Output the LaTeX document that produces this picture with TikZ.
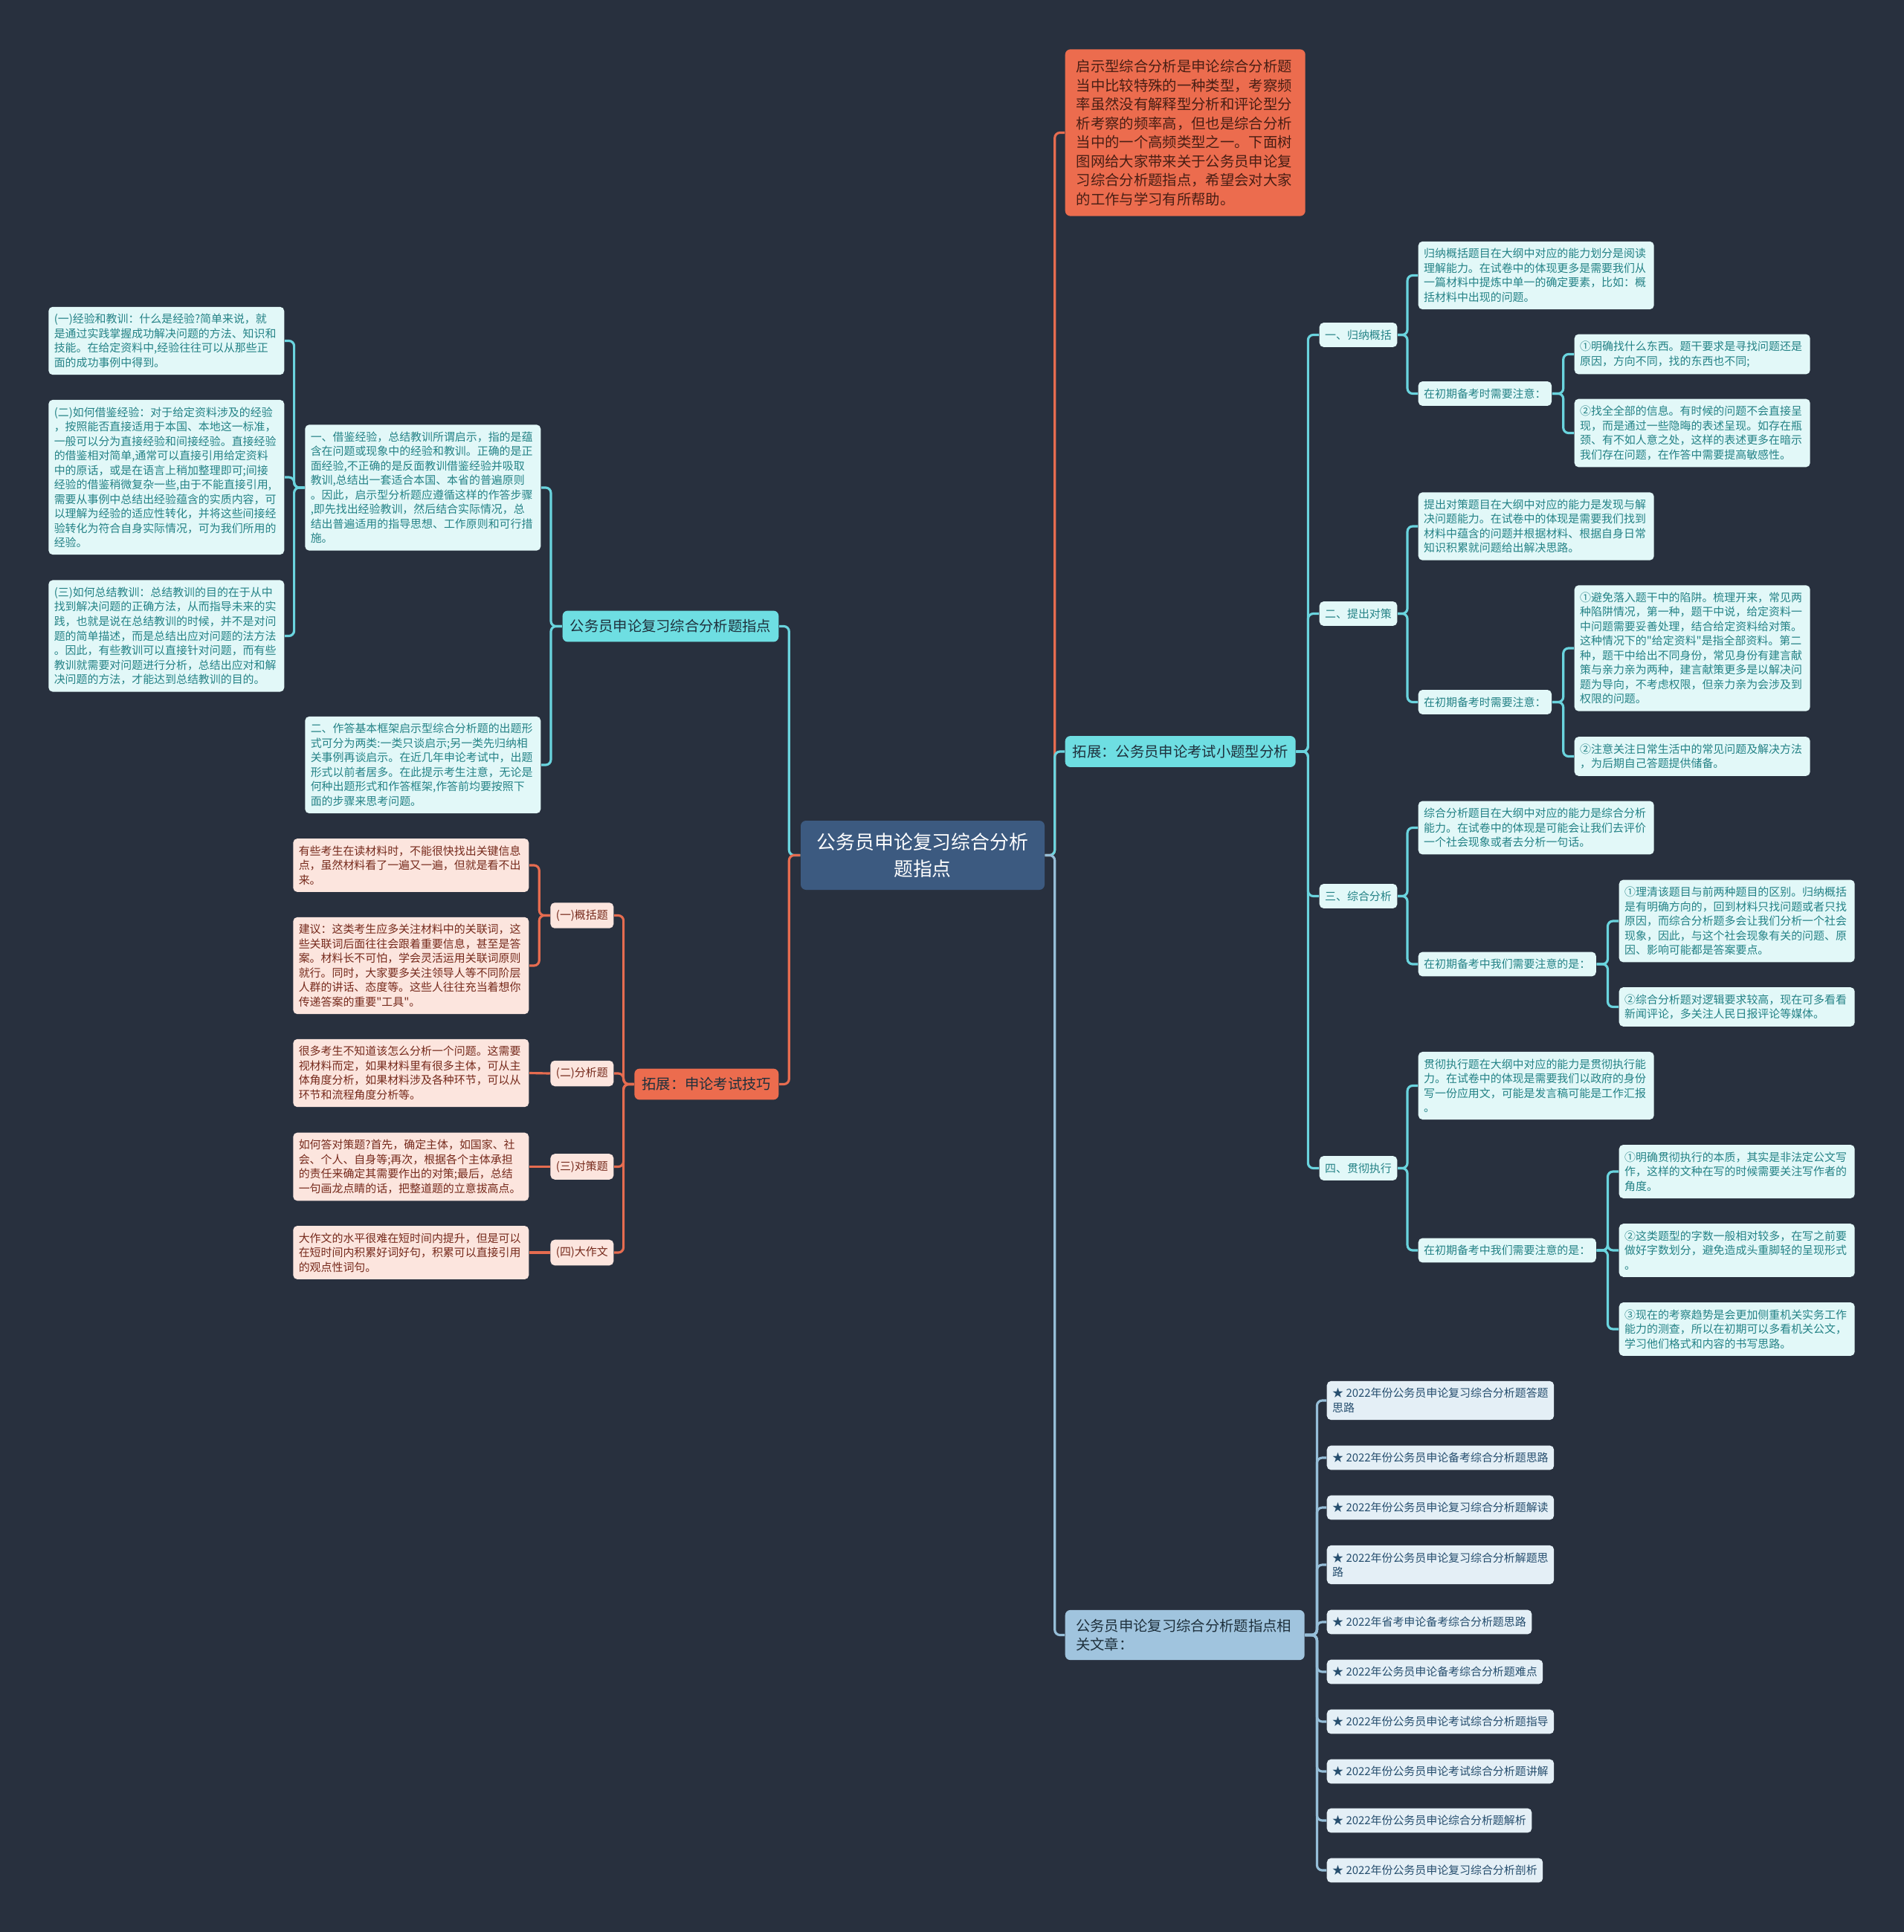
\documentclass[tikz,border=0pt]{standalone}
\usepackage{fontspec}
\newfontfamily\cjk{Noto Sans CJK SC}
\definecolor{bgnavy}{RGB}{40,48,62}
\definecolor{rootblue}{RGB}{60,90,128}
\definecolor{tcyan}{RGB}{110,222,226}
\definecolor{lcyan}{RGB}{226,248,248}
\definecolor{kcyan}{RGB}{36,130,134}
\definecolor{ncyan}{RGB}{106,212,222}
\definecolor{torange}{RGB}{236,108,78}
\definecolor{lorange}{RGB}{252,229,222}
\definecolor{korange}{RGB}{118,42,28}
\definecolor{norange}{RGB}{230,108,80}
\definecolor{tblue}{RGB}{160,196,222}
\definecolor{lblue}{RGB}{228,239,246}
\definecolor{kblue}{RGB}{38,78,110}
\definecolor{nblue}{RGB}{150,190,216}
\definecolor{kdark}{RGB}{30,48,60}
\definecolor{ktop}{RGB}{72,30,20}
\usetikzlibrary{positioning, calc}

\begin{document}
\begin{tikzpicture}[
  card/.style={rounded corners=1.6pt, inner xsep=0.075cm, inner ysep=0.095cm, align=left, font=\cjk\fontsize{4.25}{5.55}\selectfont},
  cnote/.style={card, fill=lcyan, text=kcyan, text width=3.02cm},
  clab/.style={card, fill=lcyan, text=kcyan},
  onote/.style={card, fill=lorange, text=korange, text width=3.02cm},
  olab/.style={card, fill=lorange, text=korange},
  bnote/.style={card, fill=lblue, text=kblue},
  topic/.style={rounded corners=2pt, inner xsep=0.1cm, inner ysep=0.12cm, align=left, text=kdark, font=\cjk\fontsize{5.5}{7.25}\selectfont},
  cline/.style={draw=ncyan, line width=0.9pt, rounded corners=2pt},
  oline/.style={draw=norange, line width=0.9pt, rounded corners=2pt},
  bline/.style={draw=nblue, line width=0.9pt, rounded corners=2pt},
]
  \useasboundingbox (0,0) rectangle (25.6,-25.99);
  \fill[bgnavy] (-0.2,0.2) rectangle (25.8,-26.2);

  % centre
  \node[rounded corners=2pt, fill=rootblue, text=white, align=center, minimum width=3.28cm, minimum height=0.93cm, font=\cjk\fontsize{7.35}{10.2}\selectfont] (root) at (12.41,-11.505) {公务员申论复习综合分析\\题指点};

  % right side
  \node[topic, fill=torange, text=ktop, text width=2.93cm, inner xsep=0.15cm, inner ysep=0.14cm, anchor=west] (intro) at (14.32,-1.785) {启示型综合分析是申论综合分析题\\当中比较特殊的一种类型，考察频\\率虽然没有解释型分析和评论型分\\析考察的频率高，但也是综合分析\\当中的一个高频类型之一。下面树\\图网给大家带来关于公务员申论复\\习综合分析题指点，希望会对大家\\的工作与学习有所帮助。};
  \node[topic, fill=tcyan, anchor=west] (sub) at (14.32,-10.11) {拓展：公务员申论考试小题型分析};
  \node[topic, fill=tblue, text width=2.93cm, inner xsep=0.145cm, anchor=west] (rel) at (14.32,-21.995) {公务员申论复习综合分析题指点相\\关文章：};

  \node[clab, anchor=west] (g1) at (17.74,-4.505) {一、归纳概括};
  \node[clab, anchor=west] (g2) at (17.74,-8.255) {二、提出对策};
  \node[clab, anchor=west] (g3) at (17.74,-12.055) {三、综合分析};
  \node[clab, anchor=west] (g4) at (17.74,-15.715) {四、贯彻执行};

  \node[cnote, anchor=west] (g1a) at (19.07,-3.705) {归纳概括题目在大纲中对应的能力划分是阅读\\理解能力。在试卷中的体现更多是需要我们从\\一篇材料中提炼中单一的确定要素，比如：概\\括材料中出现的问题。};
  \node[clab, anchor=west] (g1b) at (19.07,-5.295) {在初期备考时需要注意：};
  \node[cnote, anchor=west] (g1b1) at (21.17,-4.765) {①明确找什么东西。题干要求是寻找问题还是\\原因，方向不同，找的东西也不同;};
  \node[cnote, anchor=west] (g1b2) at (21.17,-5.825) {②找全全部的信息。有时候的问题不会直接呈\\现，而是通过一些隐晦的表述呈现。如存在瓶\\颈、有不如人意之处，这样的表述更多在暗示\\我们存在问题，在作答中需要提高敏感性。};

  \node[cnote, anchor=west] (g2a) at (19.07,-7.08) {提出对策题目在大纲中对应的能力是发现与解\\决问题能力。在试卷中的体现是需要我们找到\\材料中蕴含的问题并根据材料、根据自身日常\\知识积累就问题给出解决思路。};
  \node[clab, anchor=west] (g2b) at (19.07,-9.445) {在初期备考时需要注意：};
  \node[cnote, anchor=west] (g2b1) at (21.17,-8.72) {①避免落入题干中的陷阱。梳理开来，常见两\\种陷阱情况，第一种，题干中说，给定资料一\\中问题需要妥善处理，结合给定资料给对策。\\这种情况下的"给定资料"是指全部资料。第二\\种，题干中给出不同身份，常见身份有建言献\\策与亲力亲为两种，建言献策更多是以解决问\\题为导向，不考虑权限，但亲力亲为会涉及到\\权限的问题。};
  \node[cnote, anchor=west] (g2b2) at (21.17,-10.175) {②注意关注日常生活中的常见问题及解决方法\\，为后期自己答题提供储备。};

  \node[cnote, anchor=west] (g3a) at (19.07,-11.135) {综合分析题目在大纲中对应的能力是综合分析\\能力。在试卷中的体现是可能会让我们去评价\\一个社会现象或者去分析一句话。};
  \node[clab, anchor=west] (g3b) at (19.07,-12.97) {在初期备考中我们需要注意的是：};
  \node[cnote, anchor=west] (g3b1) at (21.77,-12.39) {①理清该题目与前两种题目的区别。归纳概括\\是有明确方向的，回到材料只找问题或者只找\\原因，而综合分析题多会让我们分析一个社会\\现象，因此，与这个社会现象有关的问题、原\\因、影响可能都是答案要点。};
  \node[cnote, anchor=west] (g3b2) at (21.77,-13.545) {②综合分析题对逻辑要求较高，现在可多看看\\新闻评论，多关注人民日报评论等媒体。};

  \node[cnote, anchor=west] (g4a) at (19.07,-14.605) {贯彻执行题在大纲中对应的能力是贯彻执行能\\力。在试卷中的体现是需要我们以政府的身份\\写一份应用文，可能是发言稿可能是工作汇报\\。};
  \node[clab, anchor=west] (g4b) at (19.07,-16.82) {在初期备考中我们需要注意的是：};
  \node[cnote, anchor=west] (g4b1) at (21.77,-15.76) {①明确贯彻执行的本质，其实是非法定公文写\\作，这样的文种在写的时候需要关注写作者的\\角度。};
  \node[cnote, anchor=west] (g4b2) at (21.77,-16.82) {②这类题型的字数一般相对较多，在写之前要\\做好字数划分，避免造成头重脚轻的呈现形式\\。};
  \node[cnote, anchor=west] (g4b3) at (21.77,-17.88) {③现在的考察趋势是会更加侧重机关实务工作\\能力的测查，所以在初期可以多看机关公文，\\学习他们格式和内容的书写思路。};

  % related articles
  \node[bnote, anchor=west] (a1) at (17.84,-18.84) {★ 2022年份公务员申论复习综合分析题答题\\思路};
  \node[bnote, anchor=west] (a2) at (17.84,-19.61) {★ 2022年份公务员申论备考综合分析题思路};
  \node[bnote, anchor=west] (a3) at (17.84,-20.28) {★ 2022年份公务员申论复习综合分析题解读};
  \node[bnote, anchor=west] (a4) at (17.84,-21.05) {★ 2022年份公务员申论复习综合分析解题思\\路};
  \node[bnote, anchor=west] (a5) at (17.84,-21.82) {★ 2022年省考申论备考综合分析题思路};
  \node[bnote, anchor=west] (a6) at (17.84,-22.49) {★ 2022年公务员申论备考综合分析题难点};
  \node[bnote, anchor=west] (a7) at (17.84,-23.16) {★ 2022年份公务员申论考试综合分析题指导};
  \node[bnote, anchor=west] (a8) at (17.84,-23.83) {★ 2022年份公务员申论考试综合分析题讲解};
  \node[bnote, anchor=west] (a9) at (17.84,-24.49) {★ 2022年份公务员申论综合分析题解析};
  \node[bnote, anchor=west] (a10) at (17.84,-25.16) {★ 2022年份公务员申论复习综合分析剖析};

  % left side
  \node[topic, fill=tcyan, anchor=east] (guide) at (10.48,-8.425) {公务员申论复习综合分析题指点};
  \node[topic, fill=torange, anchor=east] (skill) at (10.48,-14.585) {拓展：申论考试技巧};

  \node[cnote, anchor=east] (jj) at (7.28,-6.56) {一、借鉴经验，总结教训所谓启示，指的是蕴\\含在问题或现象中的经验和教训。正确的是正\\面经验,不正确的是反面教训借鉴经验并吸取\\教训,总结出一套适合本国、本省的普遍原则\\。因此，启示型分析题应遵循这样的作答步骤\\,即先找出经验教训，然后结合实际情况，总\\结出普遍适用的指导思想、工作原则和可行措\\施。};
  \node[cnote, anchor=east] (zd) at (7.28,-10.29) {二、作答基本框架启示型综合分析题的出题形\\式可分为两类:一类只谈启示;另一类先归纳相\\关事例再谈启示。在近几年申论考试中，出题\\形式以前者居多。在此提示考生注意，无论是\\何种出题形式和作答框架,作答前均要按照下\\面的步骤来思考问题。};
  \node[cnote, anchor=east] (jj1) at (3.83,-4.585) {(一)经验和教训：什么是经验?简单来说，就\\是通过实践掌握成功解决问题的方法、知识和\\技能。在给定资料中,经验往往可以从那些正\\面的成功事例中得到。};
  \node[cnote, anchor=east] (jj2) at (3.83,-6.42) {(二)如何借鉴经验：对于给定资料涉及的经验\\，按照能否直接适用于本国、本地这一标准，\\一般可以分为直接经验和间接经验。直接经验\\的借鉴相对简单,通常可以直接引用给定资料\\中的原话，或是在语言上稍加整理即可;间接\\经验的借鉴稍微复杂一些,由于不能直接引用,\\需要从事例中总结出经验蕴含的实质内容，可\\以理解为经验的适应性转化，并将这些间接经\\验转化为符合自身实际情况，可为我们所用的\\经验。};
  \node[cnote, anchor=east] (jj3) at (3.83,-8.555) {(三)如何总结教训：总结教训的目的在于从中\\找到解决问题的正确方法，从而指导未来的实\\践，也就是说在总结教训的时候，并不是对问\\题的简单描述，而是总结出应对问题的法方法\\。因此，有些教训可以直接针对问题，而有些\\教训就需要对问题进行分析，总结出应对和解\\决问题的方法，才能达到总结教训的目的。};

  \node[olab, anchor=east] (k1) at (8.26,-12.315) {(一)概括题};
  \node[olab, anchor=east] (k2) at (8.26,-14.44) {(二)分析题};
  \node[olab, anchor=east] (k3) at (8.26,-15.695) {(三)对策题};
  \node[olab, anchor=east] (k4) at (8.26,-16.85) {(四)大作文};

  \node[onote, anchor=east] (k1a) at (7.12,-11.64) {有些考生在读材料时，不能很快找出关键信息\\点，虽然材料看了一遍又一遍，但就是看不出\\来。};
  \node[onote, anchor=east] (k1b) at (7.12,-12.99) {建议：这类考生应多关注材料中的关联词，这\\些关联词后面往往会跟着重要信息，甚至是答\\案。材料长不可怕，学会灵活运用关联词原则\\就行。同时，大家要多关注领导人等不同阶层\\人群的讲话、态度等。这些人往往充当着想你\\传递答案的重要"工具"。};
  \node[onote, anchor=east] (k2a) at (7.12,-14.435) {很多考生不知道该怎么分析一个问题。这需要\\视材料而定，如果材料里有很多主体，可从主\\体角度分析，如果材料涉及各种环节，可以从\\环节和流程角度分析等。};
  \node[onote, anchor=east] (k3a) at (7.12,-15.695) {如何答对策题?首先，确定主体，如国家、社\\会、个人、自身等;再次，根据各个主体承担\\的责任来确定其需要作出的对策;最后，总结\\一句画龙点睛的话，把整道题的立意拔高点。};
  \node[onote, anchor=east] (k4a) at (7.12,-16.85) {大作文的水平很难在短时间内提升，但是可以\\在短时间内积累好词好句，积累可以直接引用\\的观点性词句。};

  % connectors
  \draw[oline] (root.east) -- ++(0.13,0) |- (intro.west);
  \draw[cline] (root.east) -- ++(0.13,0) |- (sub.west);
  \draw[bline] (root.east) -- ++(0.13,0) |- (rel.west);
  \draw[cline] (root.west) -- ++(-0.15,0) |- (guide.east);
  \draw[oline] (root.west) -- ++(-0.15,0) |- (skill.east);

  \foreach \c in {g1,g2,g3,g4} \draw[cline] (sub.east) -- ++(0.16,0) |- (\c.west);
  \foreach \c in {g1a,g1b} \draw[cline] (g1.east) -- ++(0.13,0) |- (\c.west);
  \foreach \c in {g2a,g2b} \draw[cline] (g2.east) -- ++(0.13,0) |- (\c.west);
  \foreach \c in {g3a,g3b} \draw[cline] (g3.east) -- ++(0.13,0) |- (\c.west);
  \foreach \c in {g4a,g4b} \draw[cline] (g4.east) -- ++(0.13,0) |- (\c.west);
  \foreach \c in {g1b1,g1b2} \draw[cline] (g1b.east) -- ++(0.15,0) |- (\c.west);
  \foreach \c in {g2b1,g2b2} \draw[cline] (g2b.east) -- ++(0.15,0) |- (\c.west);
  \foreach \c in {g3b1,g3b2} \draw[cline] (g3b.east) -- ++(0.15,0) |- (\c.west);
  \foreach \c in {g4b1,g4b2,g4b3} \draw[cline] (g4b.east) -- ++(0.15,0) |- (\c.west);
  \foreach \c in {a1,a2,a3,a4,a5,a6,a7,a8,a9,a10} \draw[bline] (rel.east) -- ++(0.16,0) |- (\c.west);

  \foreach \c in {jj,zd} \draw[cline] (guide.west) -- ++(-0.15,0) |- (\c.east);
  \foreach \c in {jj1,jj2,jj3} \draw[cline] (jj.west) -- ++(-0.14,0) |- (\c.east);
  \foreach \c in {k1,k2,k3,k4} \draw[oline] (skill.west) -- ++(-0.14,0) |- (\c.east);
  \foreach \c in {k1a,k1b} \draw[oline] (k1.west) -- ++(-0.145,0) |- (\c.east);
  \draw[oline] (k2.west) -- (k2a.east);
  \draw[oline] (k3.west) -- (k3a.east);
  \draw[oline] (k4.west) -- (k4a.east);
\end{tikzpicture}
\end{document}
